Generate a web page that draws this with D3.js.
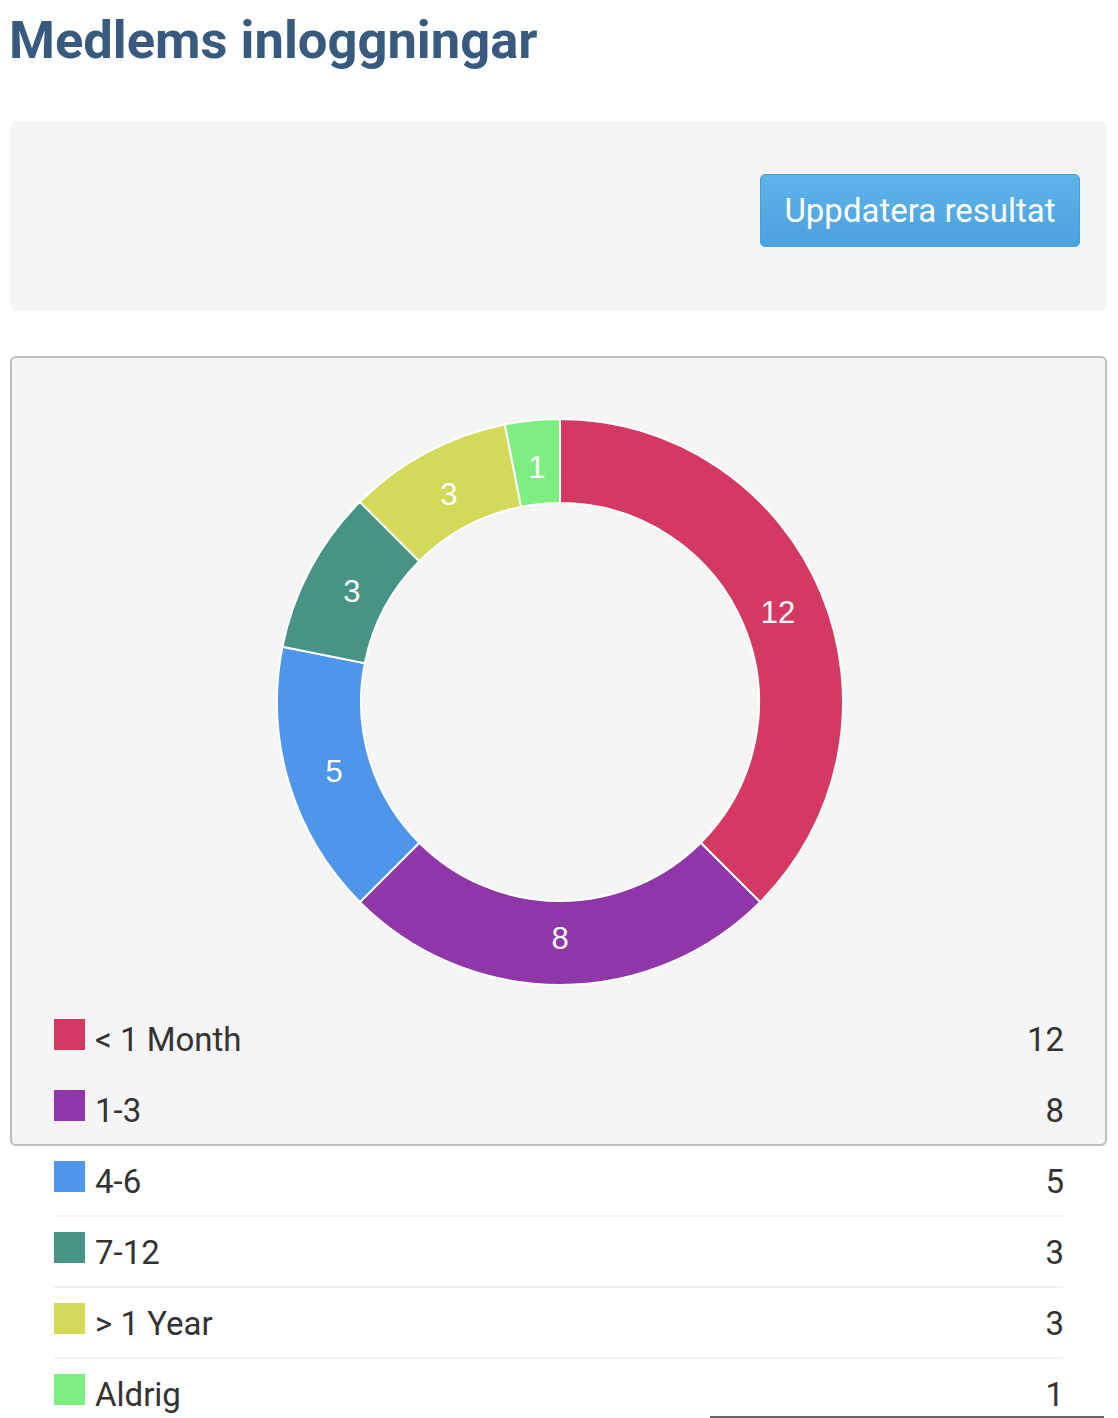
<!DOCTYPE html>
<html>
<head>
<meta charset="utf-8">
<script src="https://cdn.jsdelivr.net/npm/d3@7"></script>
<style>
  html, body { margin: 0; padding: 0; background: #fff; }
  body { width: 1118px; height: 1418px; position: relative; overflow: hidden; font-family: Roboto, "Noto Sans", sans-serif; }
  h1 { position: absolute; left: 9px; top: 0; margin: 0; font-size: 52.5px; line-height: 80px; font-weight: 700; color: #395a7f; }
  .filter { position: absolute; left: 10px; top: 121px; width: 1097px; height: 190px; background: #f5f5f5; border-radius: 7px; }
  .btn { position: absolute; left: 750px; top: 53px; width: 320px; height: 73px; box-sizing: border-box;
    border: 1px solid #4b9fd9; border-radius: 5px; background: linear-gradient(#5eb5ea, #4aa1df);
    color: #fff; font-size: 33px; text-align: center; line-height: 71px; }
  .panel { position: absolute; left: 10px; top: 356px; width: 1097px; height: 790px; box-sizing: border-box;
    background: #f5f5f5; border: 2px solid #bdbdbd; border-radius: 6px; }
  .scroll { position: absolute; left: 710px; top: 1416px; width: 394px; height: 2px; background: #666; }
  #chart { position: absolute; left: 0; top: 0; }
</style>
</head>
<body>
<h1>Medlems inloggningar</h1>
<div class="filter"><div class="btn">Uppdatera resultat</div></div>
<div class="panel"></div>
<div class="scroll"></div>
<div id="chart"></div>
<script>
const categories = ["< 1 Month", "1-3", "4-6", "7-12", "> 1 Year", "Aldrig"];
const values = [12, 8, 5, 3, 3, 1];
const colors = ["#d33963", "#8f36a8", "#4d96ea", "#479486", "#d3da5a", "#7cef80"];

const W = 1118, H = 1418;
const cx = 560, cy = 702;
const outerR = 283, innerR = 199;

const svg = d3.select("#chart")
  .append("svg")
  .attr("width", W)
  .attr("height", H);

const data = categories.map((c, i) => ({ label: c, value: values[i], color: colors[i] }));

const pie = d3.pie().sort(null).value((d) => d.value);
const arc = d3.arc().innerRadius(innerR).outerRadius(outerR);
const labelArc = d3.arc().innerRadius(236).outerRadius(236);

const g = svg.append("g").attr("transform", `translate(${cx},${cy})`);

g.selectAll("path.slice")
  .data(pie(data))
  .join("path")
  .attr("class", "slice")
  .attr("d", arc)
  .attr("fill", (d) => d.data.color)
  .attr("stroke", "#fff")
  .attr("stroke-width", 2);

g.selectAll("text.val")
  .data(pie(data))
  .join("text")
  .attr("class", "val")
  .attr("transform", (d) => `translate(${labelArc.centroid(d)})`)
  .attr("text-anchor", "middle")
  .attr("dy", "0.36em")
  .attr("fill", "#fff")
  .style("font-family", "'Liberation Sans', Arial, sans-serif")
  .style("font-size", "31px")
  .text((d) => d.data.value);

// legend (rows spill out under the panel, like the original)
const y = d3.scaleBand()
  .domain(categories)
  .range([1003, 1003 + 71 * categories.length]);

const rows = svg.append("g").selectAll("g.row")
  .data(data)
  .join("g")
  .attr("class", "row")
  .attr("transform", (d) => `translate(0,${y(d.label)})`);

// separators: the ones inside the grey panel don't show
rows.filter((d, i) => i >= 3)
  .append("line")
  .attr("x1", 54).attr("x2", 1063)
  .attr("y1", 0).attr("y2", 0)
  .attr("stroke", "#f1f1f1")
  .attr("stroke-width", 2);

rows.append("rect")
  .attr("x", 54)
  .attr("y", 16)
  .attr("width", 31)
  .attr("height", 31)
  .attr("fill", (d) => d.color);

rows.append("text")
  .attr("x", 95)
  .attr("y", 48)
  .attr("fill", "#333")
  .style("font-family", "Roboto, sans-serif")
  .style("font-size", "33px")
  .text((d) => d.label);

rows.append("text")
  .attr("x", 1064)
  .attr("y", 48)
  .attr("text-anchor", "end")
  .attr("fill", "#333")
  .style("font-family", "Roboto, sans-serif")
  .style("font-size", "33px")
  .text((d) => d.value);
</script>
</body>
</html>
